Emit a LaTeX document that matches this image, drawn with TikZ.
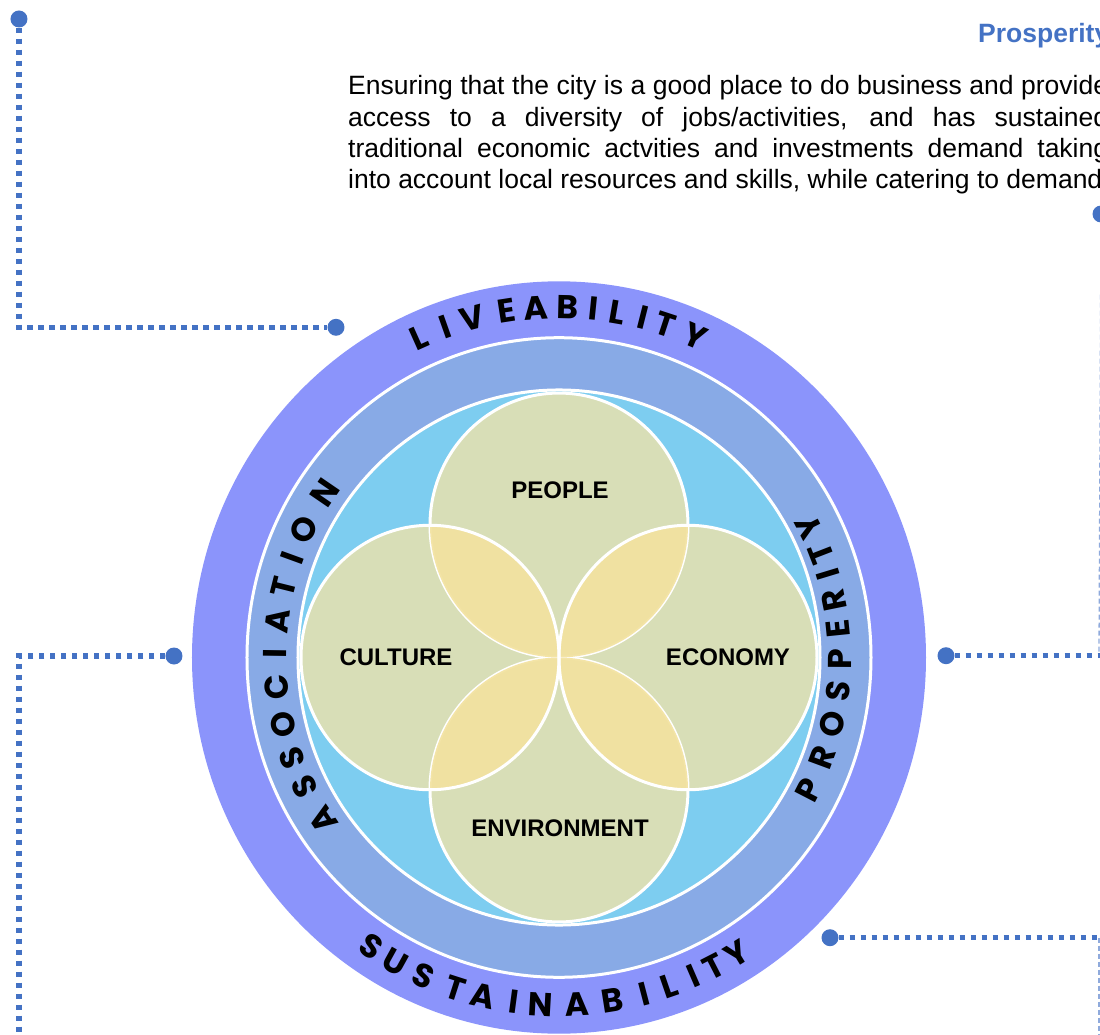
\documentclass[tikz,border=0pt]{standalone}
\usepackage{fontspec}
\setmainfont{Liberation Sans}
\newfontfamily\ringfont{Poppins}
\definecolor{outerring}{HTML}{8B94FB}
\definecolor{midring}{HTML}{88AAE6}
\definecolor{cyanfill}{HTML}{7DCDF0}
\definecolor{khaki}{HTML}{D8DEB7}
\definecolor{lensfill}{HTML}{F3E2A0}
\definecolor{dotblue}{HTML}{4472C4}
\definecolor{thinblue}{HTML}{8FAADC}
\tikzset{
  ringletter/.style={font={\ringfont\bfseries\fontsize{33}{33}\selectfont}, inner sep=0pt, text=black},
  dotline/.style={draw=dotblue, line width=5.5pt, dash pattern=on 5.5pt off 5.5pt},
  thinline/.style={draw=thinblue, line width=1.3pt, dash pattern=on 5pt off 3pt},
  enddot/.style={circle, fill=dotblue, minimum size=17pt, inner sep=0pt},
  circlabel/.style={font={\bfseries\fontsize{24}{24}\selectfont}, inner sep=0pt},
  bodyline/.style={font={\fontsize{26.5}{31.2}\selectfont}, anchor=base west, inner sep=0pt},
  sepline/.style={draw=white, line width=3pt},
}
\begin{document}
\begin{tikzpicture}[x=1pt,y=1pt]
\useasboundingbox (-559,-376.5) rectangle (541,657.5);
\clip (-559,-376.5) rectangle (541,657.5);

% ---- rings and circles ----
\begin{scope}[yscale=1.025]
  \fill[outerring] (0,0) circle (367);
  \draw[sepline, fill=midring] (0,0) circle (312);
  \draw[sepline, fill=cyanfill] (0,0) circle (261);
  \fill[khaki] (0,129) circle (129);
  \fill[khaki] (0,-129) circle (129);
  \fill[khaki] (-129,0) circle (129);
  \fill[khaki] (129,0) circle (129);
  \draw[sepline] (0,129) circle (129);
  \draw[sepline] (0,-129) circle (129);
  \begin{scope}
    \clip (0,129) circle (129);
    \fill[lensfill, opacity=0.92] (-129,0) circle (129);
    \fill[lensfill, opacity=0.92] (129,0) circle (129);
  \end{scope}
  \begin{scope}
    \clip (0,-129) circle (129);
    \fill[lensfill, opacity=0.92] (-129,0) circle (129);
    \fill[lensfill, opacity=0.92] (129,0) circle (129);
  \end{scope}
  \draw[sepline] (-129,0) circle (129);
  \draw[sepline] (129,0) circle (129);
\end{scope}

% ---- circle labels ----
\node[circlabel] (people) at (1,167.5) {PEOPLE};
\node[circlabel] (culture) at (-163,0.5) {CULTURE};
\node[circlabel] (economy) at (169,0.5) {ECONOMY};
\node[circlabel] (environment) at (1,-170.5) {ENVIRONMENT};

% ---- ring words ----
\foreach \ch/\a [count=\i] in {L/114.1,I/109.5,V/104.7,E/98.8,A/93.8,B/88.6,I/84.2,L/80.2,I/75.8,T/71.8,Y/66.5}
  \node[ringletter, rotate=\a-90] (liv\i) at ({342*cos(\a)},{342*1.025*sin(\a)}) {\ch};
\foreach \ch/\a [count=\i] in {S/-123.6,U/-118.9,S/-113.5,T/-107.8,A/-102.9,I/-97.6,N/-93.2,A/-87.0,B/-81.0,I/-75.4,L/-71.0,I/-66.6,T/-62.8,Y/-58.4}
  \node[ringletter, rotate=\a+90] (sus\i) at ({339*cos(\a)},{339*1.025*sin(\a)}) {\ch};
\foreach \ch/\a [count=\i] in {A/214.0,S/206.3,S/200.2,O/193.4,C/185.8,I/179.2,A/172.8,T/166.0,I/160.0,O/153.9,N/145.6}
  \node[ringletter, rotate=\a-90] (ass\i) at ({284*cos(\a)},{284*1.025*sin(\a)}) {\ch};
\foreach \ch/\a [count=\i] in {P/-27.3,R/-20.3,O/-13.4,S/-6.7,P/-0.3,E/5.8,R/11.5,I/16.9,T/21.2,Y/27.0}
  \node[ringletter, rotate=\a+90] (pro\i) at ({281*cos(\a)},{281*1.025*sin(\a)}) {\ch};

% ---- text block ----
\node[bodyline, font={\bfseries\fontsize{26.5}{31.2}\selectfont}, text=dotblue] (head) at (419,614.8) {Prosperity};
\node[bodyline] (t1) at (-211,562.5) {\makebox[760pt][s]{Ensuring that the city is a good place to do business and provide}};
\node[bodyline] (t2) at (-211,531.3) {\makebox[760pt][s]{access to a diversity of jobs/activities, and has sustained}};
\node[bodyline] (t3) at (-211,500.1) {\makebox[760pt][s]{traditional economic actvities and investments demand taking}};
\node[bodyline] (t4) at (-211,468.9) {into account local resources and skills, while catering to demand};

% ---- connectors ----
\node[enddot] (tl1) at (-540,638.5) {};
\node[enddot] (tl2) at (-223,330.2) {};
\coordinate (ctl) at (-540,330.2);
\draw[dotline] (tl1) -- (ctl) -- (tl2);

\node[enddot] (lm) at (-385,1.5) {};
\coordinate (clm) at (-540,1.5);
\coordinate (clmb) at (-540,-380);
\draw[dotline] (lm) -- (clm) -- (clmb);

\node[enddot] (tr) at (542,443.5) {};
\coordinate (ctr) at (540,1.8);
\draw[thinline] (tr) -- (ctr);

\node[enddot] (rm) at (387,1.8) {};
\coordinate (crm) at (548,1.8);
\draw[dotline] (rm) -- (crm);

\node[enddot] (br) at (271,-280.2) {};
\coordinate (cbr) at (548,-280.2);
\coordinate (cbrt) at (540,-280.2);
\coordinate (cbrb) at (540,-380);
\draw[dotline] (br) -- (cbr);
\draw[thinline] (cbrt) -- (cbrb);
\end{tikzpicture}
\end{document}
